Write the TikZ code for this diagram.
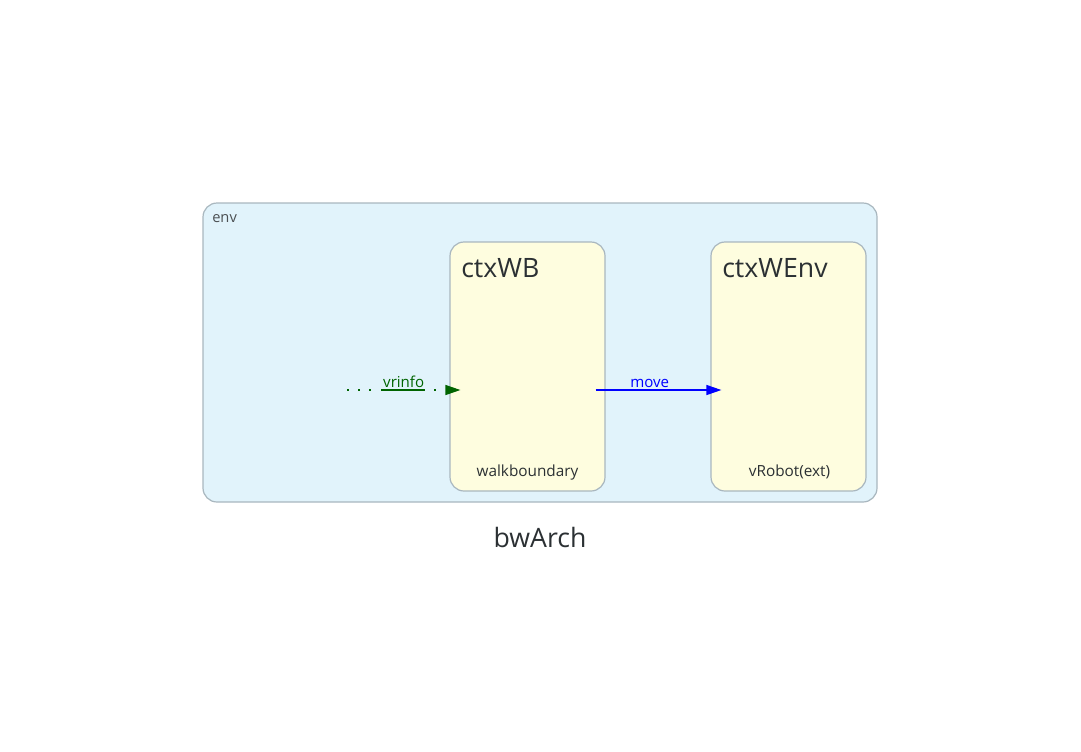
\documentclass[tikz,border=0pt]{standalone}
\usepackage{tikz, xcolor}
\usepackage{fontspec}
\setmainfont{Open Sans}
\usetikzlibrary{arrows.meta}
\newcommand{\pxunit}{0.75pt}

\definecolor{envfill}{HTML}{E1F3FB}
\definecolor{ctxfill}{HTML}{FEFDDF}
\definecolor{boxline}{HTML}{A9B7BF}
\definecolor{txtdark}{HTML}{2B3033}
\definecolor{flowgreen}{HTML}{006400}

\begin{document}
\begin{tikzpicture}[x=\pxunit, y=-\pxunit]
\useasboundingbox (0,0) rectangle (1081,751);
\tikzset{ctxbox/.style={draw=boxline,
			fill=ctxfill,
			rounded corners=14*\pxunit,
			minimum width  = 155*\pxunit,
			minimum height = 249*\pxunit,
			inner sep=0pt,
			line width=0.9pt
			},
	flowtip/.style={-{Triangle[length=15*\pxunit, width=10*\pxunit]}},
	flowlabel/.style={font=\fontsize{11.3}{13}\selectfont, inner sep=1pt, anchor=south}
}

% context
\node[draw=boxline, fill=envfill, rounded corners=14*\pxunit, line width=0.9pt,
      minimum width=674*\pxunit, minimum height=299*\pxunit, inner sep=0pt] (env) at (540,352.5) {};
\node[anchor=base west, text=txtdark!85, inner sep=0pt, font=\fontsize{11}{13}\selectfont] (envlabel) at (212,222) {env};

% actor contexts
\node[ctxbox] (ctxWB) at (527.5,366.5) {};
\node[ctxbox] (ctxWEnv) at (788.5,366.5) {};

\node[anchor=base west, text=txtdark, inner sep=0pt, font=\fontsize{20}{24}\selectfont] (wbtitle) at (461,277) {ctxWB};
\node[anchor=base west, text=txtdark, inner sep=0pt, font=\fontsize{20}{24}\selectfont] (envtitle) at (722,277) {ctxWEnv};

\node[anchor=base, text=txtdark, inner sep=0pt, font=\fontsize{11.5}{14}\selectfont] (walkb) at (527.5,476) {walkboundary};
\node[anchor=base, text=txtdark, inner sep=0pt, font=\fontsize{11.5}{14}\selectfont] (vrobot) at (789.5,476) {vRobot(ext)};

% flows
\coordinate (vrsrc) at (347,390);
\coordinate (wbin) at ([xshift=11*\pxunit, yshift=-23.5*\pxunit]ctxWB.west);
\coordinate (wbout) at ([xshift=-10*\pxunit, yshift=-23.5*\pxunit]ctxWB.east);
\coordinate (envin) at ([xshift=11*\pxunit, yshift=-23.5*\pxunit]ctxWEnv.west);

\draw[flowtip, flowgreen, line width=0.9pt,
      dash pattern=on 2*\pxunit off 9*\pxunit on 2*\pxunit off 9*\pxunit on 2*\pxunit off 10*\pxunit on 44*\pxunit off 9*\pxunit on 2*\pxunit off 20*\pxunit]
      (vrsrc) -- (wbin) node[flowlabel, pos=0.5, text=flowgreen] (vrinfo) {vrinfo};

\draw[flowtip, blue, line width=0.9pt] (wbout) -- (envin) node[flowlabel, pos=0.43, text=blue] (move) {move};

% title
\node[text=txtdark, inner sep=0pt, font=\fontsize{20}{24}\selectfont] (arch) at (540,537) {bwArch};
\end{tikzpicture}
\end{document}
